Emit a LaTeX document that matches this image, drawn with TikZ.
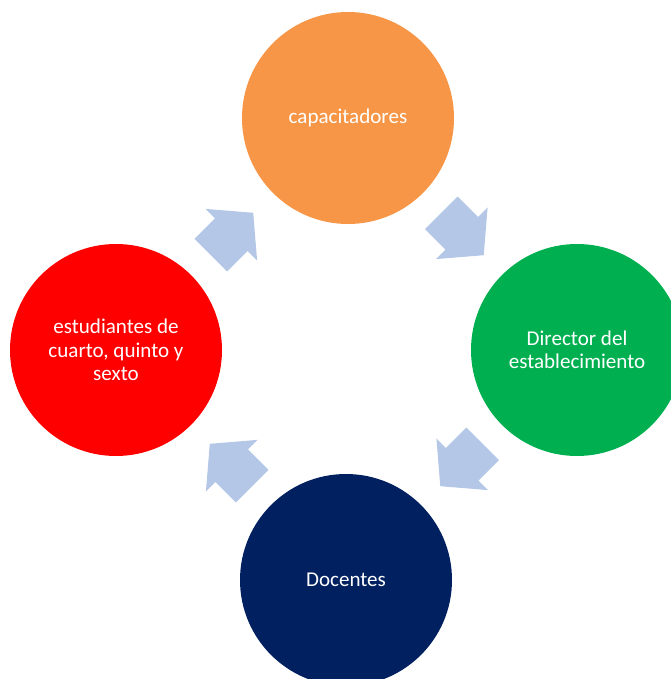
\documentclass[tikz,border=0pt]{standalone}
\usepackage{fontspec}
\setmainfont{Carlito}
\usetikzlibrary{calc}
\definecolor{naranja}{HTML}{F79646}
\definecolor{verde}{HTML}{00B050}
\definecolor{marino}{HTML}{002060}
\definecolor{rojo}{HTML}{FF0000}
\definecolor{azulclaro}{HTML}{B4C7E7}
\begin{document}
\begin{tikzpicture}[x=0.75pt,y=0.75pt]
	\tikzstyle{circulo}=[circle, minimum size=159pt, inner sep=0pt, text=white, align=center, font=\fontsize{15.8}{17.6}\selectfont]
	\tikzstyle{flecha}=[fill=azulclaro]
	\clip (0,0) rectangle (671,679);
	\node [circulo, fill=naranja] (cap) at (348,561) {capacitadores};
	\node [circulo, fill=verde] (dir) at (577,329) {Director del\\establecimiento};
	\node [circulo, fill=marino] (doc) at (346,99) {Docentes};
	\node [circulo, fill=rojo] (est) at (116,329) {estudiantes de\\cuarto, quinto y\\sexto};
	\fill [flecha, shift={($(est)!0.5!(cap)$)}, rotate=45] (-30,-23) -- (-1,-23) -- (-1,-36.5) -- (30,0) -- (-1,36.5) -- (-1,23) -- (-30,23) -- cycle;
	\fill [flecha, shift={($(cap)!0.5!(dir)$)}, rotate=-45] (-30,-23) -- (-1,-23) -- (-1,-36.5) -- (30,0) -- (-1,36.5) -- (-1,23) -- (-30,23) -- cycle;
	\fill [flecha, shift={($(dir)!0.5!(doc)$)}, rotate=-135] (-30,-23) -- (-1,-23) -- (-1,-36.5) -- (30,0) -- (-1,36.5) -- (-1,23) -- (-30,23) -- cycle;
	\fill [flecha, shift={($(doc)!0.5!(est)$)}, rotate=135] (-30,-23) -- (-1,-23) -- (-1,-36.5) -- (30,0) -- (-1,36.5) -- (-1,23) -- (-30,23) -- cycle;
\end{tikzpicture}
\end{document}
